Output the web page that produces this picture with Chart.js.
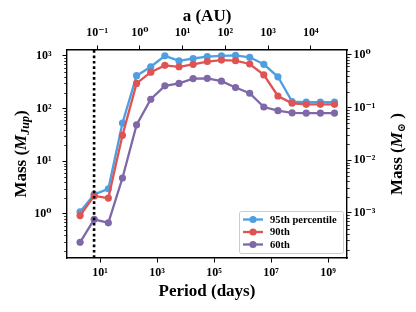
<!DOCTYPE html>
<html>
<head>
<meta charset="utf-8">
<script src="https://cdn.jsdelivr.net/npm/chart.js@4/dist/chart.umd.min.js"></script>
<style>
  html, body { margin: 0; padding: 0; background: #fff; }
  #wrap { width: 416px; height: 312px; }
</style>
</head>
<body>
<div id="wrap"><canvas id="grafica"></canvas></div>
<script>
// Periodos (dias) de cada bin
const periodDays = [2.0, 6.25, 19.6, 61.4, 192, 603, 1890, 5920, 18500, 58100,
    182000, 570000, 1.79e6, 5.6e6, 1.75e7, 5.5e7, 1.72e8, 5.4e8, 1.69e9];

// Masas (M_Jup) por percentil
const mass95 = [1.1, 2.35, 3.0, 53, 420, 620, 1000, 800, 890, 970,
    1000, 1020, 940, 690, 400, 135, 132, 132, 132];
const mass90 = [0.93, 2.2, 2.0, 31, 300, 490, 660, 620, 690, 780,
    830, 810, 700, 435, 173, 126, 120, 120, 120];
const mass60 = [0.29, 0.79, 0.68, 4.8, 49, 150, 270, 300, 370, 375,
    330, 250, 195, 107, 91, 83, 82, 82, 82];

const seriesLabels = ['95th percentile', '90th', '60th'];
const seriesColors = ['#4f9fe0', '#e05353', '#7e68a8'];

// Linea punteada vertical
const dottedPeriod = 6.2;

// Ticks
const periodTicks = [1e1, 1e3, 1e5, 1e7, 1e9];
const auTicks = [1e-1, 1e0, 1e1, 1e2, 1e3, 1e4];
const jupTicks = [1e0, 1e1, 1e2, 1e3];
const sunTicks = [1e-3, 1e-2, 1e-1, 1e0];

// Rangos
const periodMin = 0.695, periodMax = 4.64e9;
const massMin = 0.146, massMax = 1290;
const jupPerSun = 1047;
const periodAt1AU = 251; // dias

const auMin = Math.pow(periodMin / periodAt1AU, 2 / 3);
const auMax = Math.pow(periodMax / periodAt1AU, 2 / 3);

const FONT = "'Liberation Serif', 'DejaVu Serif', serif";

function sup(n) {
    const map = { '0': '⁰', '1': '¹', '2': '²', '3': '³', '4': '⁴', '5': '⁵',
        '6': '⁶', '7': '⁷', '8': '⁸', '9': '⁹', '-': '⁻' };
    return String(n).split('').map(c => map[c]).join('');
}

function powLabel(value) {
    return '10' + sup(Math.round(Math.log10(value)));
}

function toPoints(ys) {
    return periodDays.map((p, i) => ({ x: p, y: ys[i] }));
}

const tickFont = { family: FONT, size: 12, weight: 'bold' };
const titleFont = { family: FONT, size: 17, weight: 'bold' };

function logAxis(position, min, max, ticks, size, titleText, titlePad, labelPad) {
    const horiz = position === 'top' || position === 'bottom';
    return {
        type: 'logarithmic',
        position: position,
        min: min,
        max: max,
        afterBuildTicks: (scale) => { scale.ticks = ticks.map(v => ({ value: v })); },
        afterFit: (scale) => { if (horiz) scale.height = size; else scale.width = size; },
        ticks: {
            callback: (v) => powLabel(v),
            font: tickFont,
            color: '#000',
            padding: labelPad,
            autoSkip: false,
            maxRotation: 0
        },
        grid: {
            drawOnChartArea: false,
            drawTicks: true,
            tickLength: 4.5,
            tickColor: '#000',
            tickWidth: 1
        },
        border: { display: true, color: '#000', width: 1.4 },
        title: {
            display: titleText !== null,
            text: titleText || '',
            font: titleFont,
            color: '#000',
            padding: titlePad
        }
    };
}

// Ticks menores en los ejes de masa
const minorTicks = {
    id: 'minorTicks',
    afterDraw(chart) {
        const ctx = chart.ctx;
        ctx.save();
        ctx.strokeStyle = '#000';
        ctx.lineWidth = 0.8;
        ['y', 'y2'].forEach(id => {
            const s = chart.scales[id];
            const lo = Math.floor(Math.log10(s.min)), hi = Math.ceil(Math.log10(s.max));
            for (let d = lo; d <= hi; d++) {
                for (let m = 2; m <= 9; m++) {
                    const v = m * Math.pow(10, d);
                    if (v < s.min || v > s.max) continue;
                    const py = Math.round(s.getPixelForValue(v)) + 0.5;
                    const x0 = id === 'y' ? chart.chartArea.left : chart.chartArea.right;
                    const dir = id === 'y' ? -1 : 1;
                    ctx.beginPath();
                    ctx.moveTo(x0, py);
                    ctx.lineTo(x0 + dir * 2.8, py);
                    ctx.stroke();
                }
            }
        });
        ctx.restore();
    }
};

// Titulos de los ejes de masa (con subindices), leidos de abajo hacia arriba
const massTitles = {
    id: 'massTitles',
    afterDraw(chart) {
        const ctx = chart.ctx;
        const a = chart.chartArea;
        const cy = (a.top + a.bottom) / 2;
        const big = "bold 17px " + FONT;
        const bigIt = "italic bold 17px " + FONT;
        const small = "italic bold 12px " + FONT;
        const titles = [
            { cx: 22, parts: [['Mass (', big, 0], ['M', bigIt, 0], ['Jup', small, 4], [')', big, 0]] },
            { cx: 398, parts: [['Mass (', big, 0], ['M', bigIt, 0], ['⊙', "bold 11px " + FONT, 4], [' )', big, 0]] }
        ];
        titles.forEach(t => {
            ctx.save();
            ctx.translate(t.cx, cy);
            ctx.rotate(-Math.PI / 2);
            ctx.textBaseline = 'middle';
            ctx.fillStyle = '#000';
            let total = 0;
            t.parts.forEach(p => { ctx.font = p[1]; total += ctx.measureText(p[0]).width; });
            let x = -total / 2;
            t.parts.forEach(p => {
                ctx.font = p[1];
                ctx.fillText(p[0], x, p[2]);
                x += ctx.measureText(p[0]).width;
            });
            ctx.restore();
        });
    }
};

// Leyenda dentro del area
const boxLegend = {
    id: 'boxLegend',
    afterDraw(chart) {
        const ctx = chart.ctx;
        const a = chart.chartArea;
        const w = 104, h = 42;
        const x = a.right - 4 - w, y = a.bottom - 5 - h;
        ctx.save();
        ctx.fillStyle = 'rgba(255,255,255,0.85)';
        ctx.strokeStyle = '#cccccc';
        ctx.lineWidth = 1;
        ctx.beginPath();
        ctx.roundRect(x + 0.5, y + 0.5, w, h, 2);
        ctx.fill();
        ctx.stroke();
        ctx.font = "bold 10.5px " + FONT;
        ctx.textBaseline = 'middle';
        seriesLabels.forEach((lab, i) => {
            const ry = y + 8.5 + i * 12.5;
            ctx.strokeStyle = seriesColors[i];
            ctx.lineWidth = 2.3;
            ctx.beginPath();
            ctx.moveTo(x + 4, ry);
            ctx.lineTo(x + 24, ry);
            ctx.stroke();
            ctx.fillStyle = seriesColors[i];
            ctx.beginPath();
            ctx.arc(x + 14, ry, 3.6, 0, Math.PI * 2);
            ctx.fill();
            ctx.fillStyle = '#000';
            ctx.fillText(lab, x + 31, ry + 0.5);
        });
        ctx.restore();
    }
};

function serie(label, ys, color, order) {
    return {
        label: label,
        data: toPoints(ys),
        borderColor: color,
        backgroundColor: color,
        borderWidth: 2.3,
        pointRadius: 3.6,
        pointBorderWidth: 0,
        pointBackgroundColor: color,
        tension: 0,
        order: order,
        xAxisID: 'x',
        yAxisID: 'y'
    };
}

new Chart(document.getElementById('grafica'), {
    type: 'line',
    data: {
        datasets: [
            {
                label: 'corte',
                data: [{ x: dottedPeriod, y: massMin }, { x: dottedPeriod, y: massMax }],
                borderColor: '#000',
                borderWidth: 2.6,
                borderDash: [2.7, 2.7],
                pointRadius: 0,
                order: 0,
                xAxisID: 'x',
                yAxisID: 'y'
            },
            serie(seriesLabels[1], mass90, seriesColors[1], 1),
            serie(seriesLabels[0], mass95, seriesColors[0], 2),
            serie(seriesLabels[2], mass60, seriesColors[2], 3)
        ]
    },
    options: {
        responsive: true,
        maintainAspectRatio: false,
        animation: false,
        layout: { padding: 0 },
        plugins: {
            legend: { display: false },
            tooltip: { enabled: false }
        },
        scales: {
            x: logAxis('bottom', periodMin, periodMax, periodTicks, 54, 'Period (days)', { top: 2, bottom: 10 }, 3),
            x2: logAxis('top', auMin, auMax, auTicks, 50, 'a (AU)', { top: 6, bottom: 2 }, 5),
            y: logAxis('left', massMin, massMax, jupTicks, 67, null, 0, 11),
            y2: logAxis('right', massMin / jupPerSun, massMax / jupPerSun, sunTicks, 69, null, 0, 2)
        }
    },
    plugins: [minorTicks, massTitles, boxLegend]
});
</script>
</body>
</html>
